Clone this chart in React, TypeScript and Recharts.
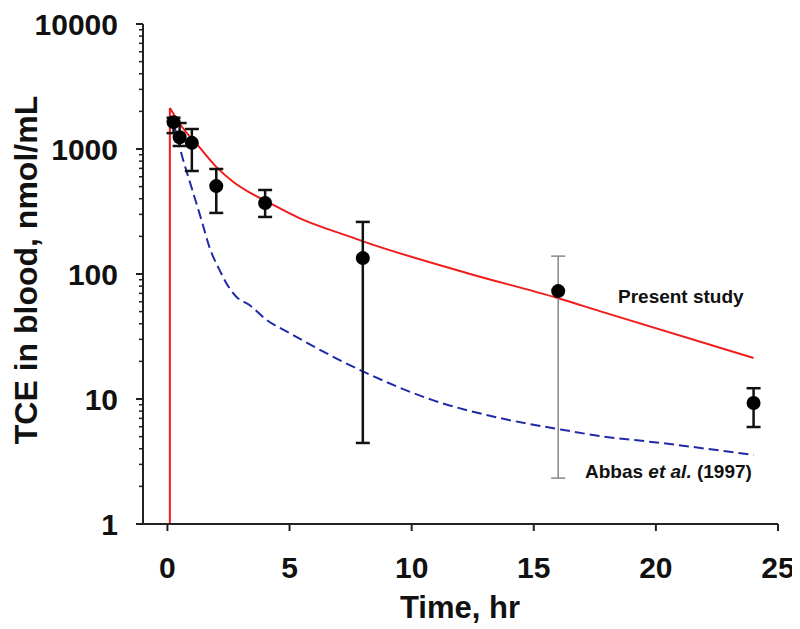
import React from "react";
import {
  ComposedChart,
  Line,
  Scatter,
  ErrorBar,
  XAxis,
  YAxis,
  Customized,
} from "recharts";

// Observed data (mean with lower / upper bounds of error bars)
const obsTime = [0.25, 0.5, 1, 2, 4, 8, 16, 24];
const obsMean = [1640, 1240, 1120, 505, 370, 134, 73, 9.3];
const obsLower = [1340, 1057, 667, 308, 286, 4.45, 2.33, 5.97];
const obsUpper = [1780, 1614, 1445, 692, 470, 261, 139, 12.2];
// index of the observation whose error bar is drawn in grey
const greyIndex = [6];

// Present study model curve: initial rise at dosing time, then decay
const presentRiseTime = [0.1, 0.1];
const presentRiseConc = [1, 2130];
const presentTime = [0.1, 0.6, 1.3, 2.0, 2.7, 3.4, 4.1, 5.4, 7.5, 8.1, 12.25, 16, 17.7, 24];
const presentConc = [2130, 1500, 1040, 720, 545, 445, 377, 280, 198, 180, 102, 64, 50.5, 21.3];

// Abbas et al. (1997) model curve
const abbasTime = [0.25, 0.61, 1.02, 1.43, 1.72, 2.13, 2.54, 2.83, 3.36, 4.06, 5.0, 6.1, 8.07, 10.86, 13.6, 16.0, 17.7, 20.2, 24.0];
const abbasConc = [1620, 863, 470, 256, 164, 108, 77, 65.5, 56.5, 42.9, 33.7, 25.6, 16.4, 9.8, 7.05, 5.75, 5.06, 4.45, 3.56];

// Axis ticks
const xTicks = [0, 5, 10, 15, 20, 25];
const yMajorTicks = [1, 10, 100, 1000, 10000];
const yMinorMultipliers = [2, 3, 4, 5, 6, 7, 8, 9];

const yAllTicks: number[] = [];
yMajorTicks.forEach((m, i) => {
  yAllTicks.push(m);
  if (i < yMajorTicks.length - 1) yMinorMultipliers.forEach((k) => yAllTicks.push(m * k));
});

const presentRise = presentRiseTime.map((t, i) => ({ t, v: presentRiseConc[i] }));
const presentData = presentTime.map((t, i) => ({ t, v: presentConc[i] }));
const abbasData = abbasTime.map((t, i) => ({ t, v: abbasConc[i] }));
const obsData = obsTime.map((t, i) => ({
  t,
  v: obsMean[i],
  err: [obsMean[i] - obsLower[i], obsUpper[i] - obsMean[i]],
}));
const obsBlack = obsData.filter((_, i) => !greyIndex.includes(i));
const obsGrey = obsData.filter((_, i) => greyIndex.includes(i));

const FONT = "'Liberation Sans', Arial, Helvetica, sans-serif";

const YTick = (props: any) => {
  const { x, y, payload } = props;
  const v = payload.value;
  const major = yMajorTicks.includes(v);
  return (
    <g>
      <line x1={x - (major ? 7 : 4)} x2={x} y1={y} y2={y} stroke="#222" strokeWidth={major ? 2 : 1.5} />
      {major && (
        <text x={x - 25} y={y} dy="0.36em" textAnchor="end" fontSize={30} fontWeight="bold" fill="#111" fontFamily={FONT}>
          {v}
        </text>
      )}
    </g>
  );
};

const XTick = (props: any) => {
  const { x, y, payload } = props;
  return (
    <g>
      <line x1={x} x2={x} y1={y} y2={y + 7} stroke="#222" strokeWidth={2} />
      <text x={x} y={y + 54} textAnchor="middle" fontSize={30} fontWeight="bold" fill="#111" fontFamily={FONT}>
        {payload.value}
      </text>
    </g>
  );
};

const Dot = (props: any) => <circle cx={props.cx} cy={props.cy} r={7} fill="#000" />;

const Annotations = () => (
  <g fontFamily={FONT} fill="#111">
    <line x1={128} x2={135} y1={516} y2={516} stroke="#222" strokeWidth={2} />
    <text transform="translate(29,262) rotate(-90)" textAnchor="middle" fontSize={32} fontWeight="bold">
      TCE in blood, nmol/mL
    </text>
    <text x={452} y={610} textAnchor="middle" fontSize={31} fontWeight="bold">
      Time, hr
    </text>
    <text x={610} y={295} fontSize={19} fontWeight="bold">
      Present study
    </text>
    <text x={577} y={470} fontSize={19} fontWeight="bold">
      Abbas <tspan fontStyle="italic">et al.</tspan> (1997)
    </text>
  </g>
);

export default function App() {
  return (
    <div style={{ width: 792, height: 621, background: "#fff" }}>
      <ComposedChart width={792} height={621} margin={{ top: 16, right: 22, bottom: 45, left: 35 }}>
        <XAxis
          dataKey="t"
          type="number"
          domain={[-1, 25]}
          ticks={xTicks}
          allowDataOverflow
          interval={0}
          tickSize={0}
          tickMargin={0}
          tickLine={false}
          tick={<XTick />}
          height={60}
          axisLine={{ stroke: "#222", strokeWidth: 2 }}
        />
        <YAxis
          dataKey="v"
          type="number"
          scale="log"
          domain={[1, 10000]}
          ticks={yAllTicks}
          allowDataOverflow
          interval={0}
          tickSize={0}
          tickMargin={0}
          tickLine={false}
          tick={<YTick />}
          width={100}
          axisLine={{ stroke: "#222", strokeWidth: 2 }}
        />
        <Line
          data={abbasData}
          dataKey="v"
          type="monotone"
          stroke="#1f2aa8"
          strokeWidth={2}
          strokeDasharray="10 5"
          dot={false}
          activeDot={false}
          isAnimationActive={false}
        />
        <Line
          data={presentRise}
          dataKey="v"
          type="linear"
          stroke="#f01c1c"
          strokeWidth={2}
          dot={false}
          activeDot={false}
          isAnimationActive={false}
        />
        <Line
          data={presentData}
          dataKey="v"
          type="monotone"
          stroke="#f01c1c"
          strokeWidth={2}
          dot={false}
          activeDot={false}
          isAnimationActive={false}
        />
        <Scatter data={obsGrey} dataKey="v" shape={<Dot />} isAnimationActive={false}>
          <ErrorBar dataKey="err" direction="y" width={7} stroke="#888" strokeWidth={1.5} isAnimationActive={false} />
        </Scatter>
        <Scatter data={obsBlack} dataKey="v" shape={<Dot />} isAnimationActive={false}>
          <ErrorBar dataKey="err" direction="y" width={7} stroke="#111" strokeWidth={2.5} isAnimationActive={false} />
        </Scatter>
        <Customized component={Annotations} />
      </ComposedChart>
    </div>
  );
}
